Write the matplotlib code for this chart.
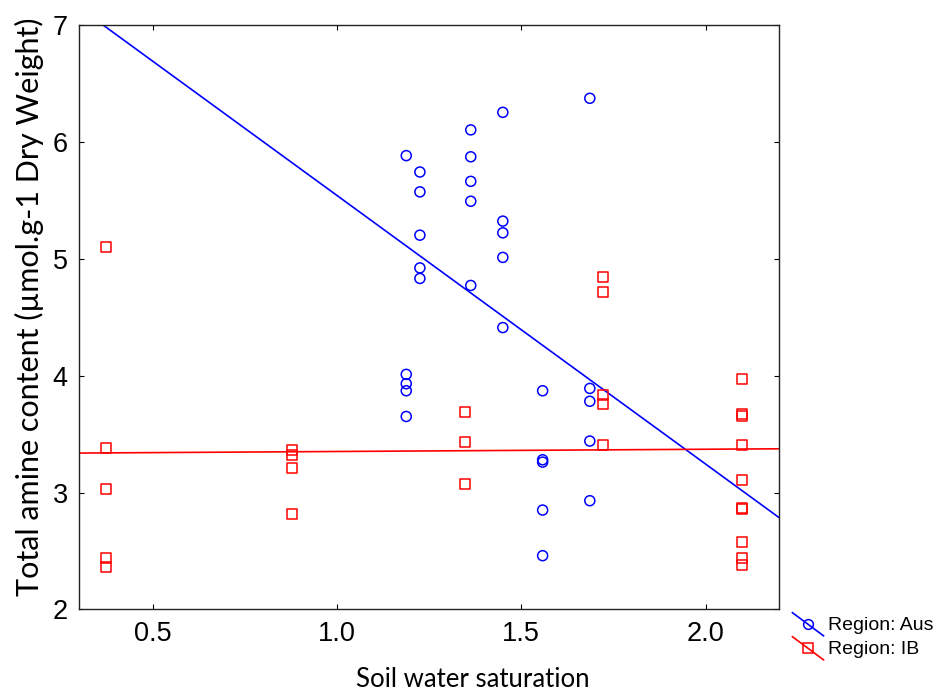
import numpy as np
import matplotlib.pyplot as plt
from matplotlib.lines import Line2D
from matplotlib.legend_handler import HandlerBase

# Region: Aus (blue circles)
aus_x = [1.188] * 5 + [1.225] * 5 + [1.363] * 5 + [1.45] * 5 + [1.558] * 5 + [1.686] * 5
aus_y = [5.88, 4.01, 3.93, 3.87, 3.65,
         5.74, 5.57, 5.20, 4.92, 4.83,
         6.10, 5.87, 5.66, 5.49, 4.77,
         6.25, 5.32, 5.22, 5.01, 4.41,
         3.87, 3.28, 3.26, 2.85, 2.46,
         6.37, 3.89, 3.78, 3.44, 2.93]

# Region: IB (red squares)
ib_x = [0.3725] * 5 + [0.878] * 4 + [1.348] * 3 + [1.722] * 5 + [2.10] * 10
ib_y = [5.10, 3.38, 3.03, 2.44, 2.36,
        3.36, 3.32, 3.21, 2.82,
        3.69, 3.43, 3.07,
        4.84, 4.71, 3.83, 3.76, 3.41,
        3.97, 3.67, 3.65, 3.41, 3.11, 2.87, 2.86, 2.58, 2.44, 2.38]

x_ticks = [0.5, 1.0, 1.5, 2.0]
y_ticks = [2, 3, 4, 5, 6, 7]
xlim = (0.3, 2.2)


class DiagHandler(HandlerBase):
    # legend key: line drawn diagonally through the marker
    def create_artists(self, legend, orig_handle, xdescent, ydescent,
                       width, height, fontsize, trans):
        x0, x1 = -xdescent, width - xdescent
        y0, y1 = height * 1.25 - ydescent, -height * 0.45 - ydescent
        ln = Line2D([x0, x1], [y0, y1], color=orig_handle.get_color(),
                    lw=orig_handle.get_linewidth(), transform=trans)
        mk = Line2D([(x0 + x1) / 2], [(y0 + y1) / 2],
                    marker=orig_handle.get_marker(), ls='none',
                    markersize=orig_handle.get_markersize(),
                    mfc='none', mec=orig_handle.get_color(),
                    mew=orig_handle.get_markeredgewidth(), transform=trans)
        return [ln, mk]


fig = plt.figure(figsize=(9.4, 6.93), dpi=100)
ax = fig.add_axes([0.084, 0.1205, 0.745, 0.844])

ax.scatter(aus_x, aus_y, marker='o', s=52, facecolors='none',
           edgecolors='#0000ff', linewidths=1.1, zorder=3)
ax.scatter(ib_x, ib_y, marker='s', s=52, facecolors='none',
           edgecolors='#ff0000', linewidths=1.1, zorder=3)

xs = np.array(xlim)
a_fit = np.polyfit(aus_x, aus_y, 1)
b_fit = np.polyfit(ib_x, ib_y, 1)
ax.plot(xs, np.polyval(a_fit, xs), color='#0000ff', lw=1.2, zorder=2)
ax.plot(xs, np.polyval(b_fit, xs), color='#ff0000', lw=1.2, zorder=2)

ax.set_xlim(*xlim)
ax.set_ylim(2, 7)
ax.set_xticks(x_ticks)
ax.set_xticklabels(['0.5', '1.0', '1.5', '2.0'])
ax.set_yticks(y_ticks)
ax.tick_params(direction='in', length=3.5, width=0.8, top=True, right=True,
               labelsize=19.5, pad=8)
for t in ax.get_xticklabels() + ax.get_yticklabels():
    t.set_family('Liberation Sans')
for s in ax.spines.values():
    s.set_linewidth(1.0)
    s.set_color('#222222')

ax.set_xlabel('Soil water saturation', family='Lato', fontsize=18.5)
ax.set_ylabel('Total amine content (\u00b5mol.g-1 Dry Weight)', family='Lato',
              fontsize=22)
ax.xaxis.set_label_coords(0.563, -0.099)
ax.yaxis.set_label_coords(-0.05, 0.517)

h1 = Line2D([], [], color='#0000ff', lw=1.2, marker='o', markersize=7, mew=1.1)
h2 = Line2D([], [], color='#ff0000', lw=1.2, marker='s', markersize=7, mew=1.1)
fig.legend([h1, h2], ['Region: Aus', 'Region: IB'],
           handler_map={Line2D: DiagHandler()},
           loc='upper left', bbox_to_anchor=(0.843, 0.111), frameon=False,
           prop={'family': 'Liberation Sans', 'size': 14},
           handlelength=1.6, handletextpad=0.25, labelspacing=0.33,
           borderaxespad=0, borderpad=0)

fig.savefig('out.png', dpi=100)
